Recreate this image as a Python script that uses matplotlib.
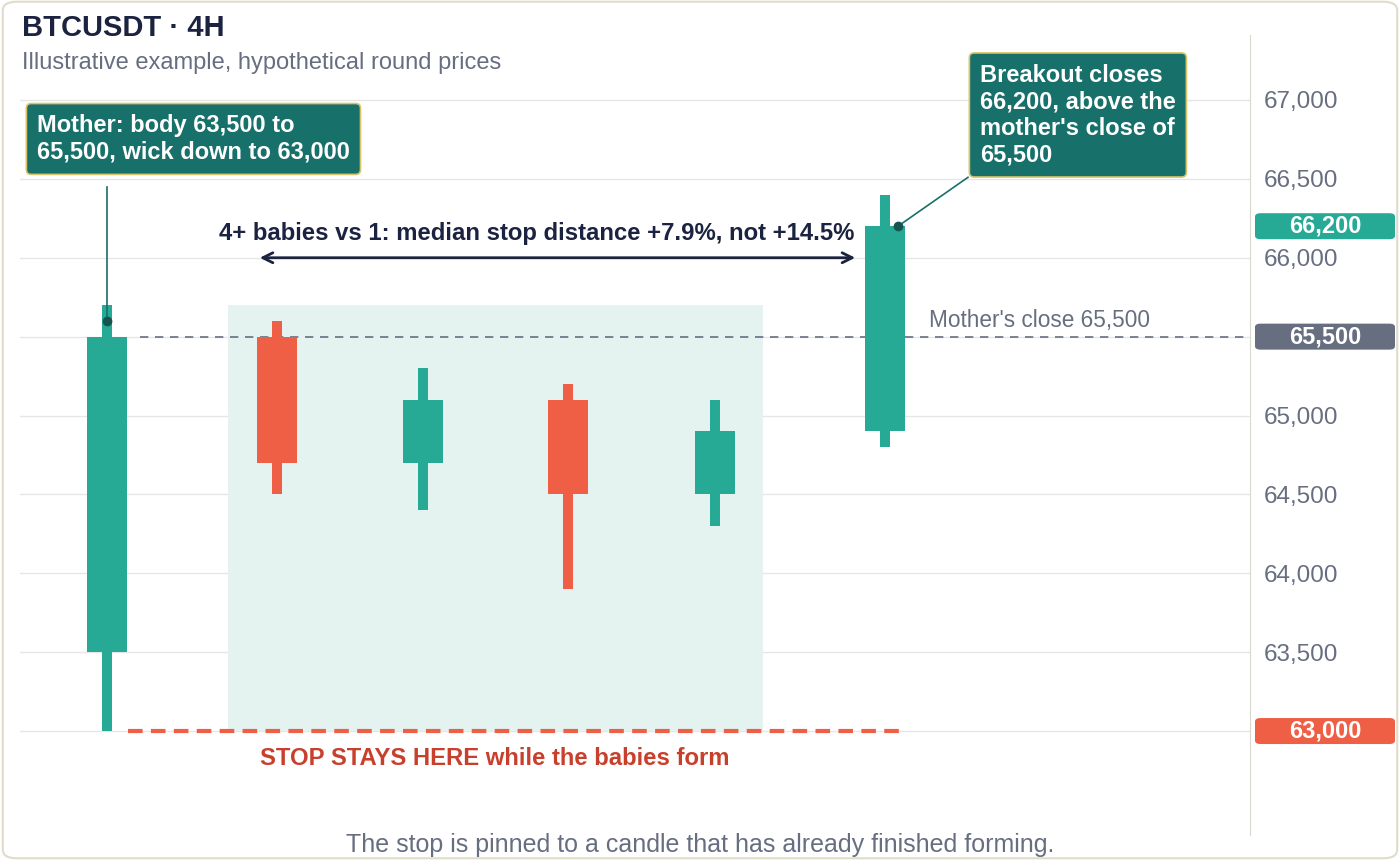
import matplotlib.pyplot as plt
from matplotlib.patches import Rectangle, FancyBboxPatch

# candle data (hypothetical round prices)
candle_x = [107, 277, 423, 568, 715, 885]
opens = [63500, 65500, 64700, 65100, 64500, 64900]
closes = [65500, 64700, 65100, 64500, 64900, 66200]
highs = [65700, 65600, 65300, 65200, 65100, 66400]
lows = [63000, 64500, 64400, 63900, 64300, 64800]

ticks = [63500, 64000, 64500, 65000, 65500, 66000, 66500, 67000]
stop_price = 63000
mother_close = 65500
breakout_close = 66200

GREEN = '#26a995'
RED = '#ef5f45'
DARK = '#17706a'
NAVY = '#1b2340'
GREY = '#666e80'

plt.rcParams['font.family'] = ['Liberation Sans', 'DejaVu Sans']

fig = plt.figure(figsize=(14, 8.6), dpi=100)
fig.patches.append(FancyBboxPatch((0.002, 0.002), 0.996, 0.996, boxstyle='round,pad=0,rounding_size=0.01',
                                  transform=fig.transFigure, fc='white', ec='#e0dccb', lw=1.5, zorder=-10))
ax = fig.add_axes([20 / 1400, 25 / 860, 1230 / 1400, 800 / 860])
ax.set_facecolor('none')
ax.set_xlim(20, 1250)
ax.set_ylim(62341, 67412)

for t in ticks + [stop_price]:
    ax.axhline(t, color='#e6e6e6', lw=1, zorder=0)

for s in ['top', 'left', 'bottom']:
    ax.spines[s].set_visible(False)
ax.spines['right'].set_color('#d8d8cc')
ax.yaxis.tick_right()
ax.set_yticks(ticks)
ax.set_yticklabels([f'{t:,}' for t in ticks])
ax.tick_params(axis='y', length=0, labelsize=17.5, labelcolor=GREY, pad=10)
ax.set_xticks([])

# babies zone
ax.add_patch(Rectangle((228, stop_price), 535, highs[0] - stop_price, fc='#e4f3ef', ec='none', zorder=1))

for x, o, c, h, l in zip(candle_x, opens, closes, highs, lows):
    col = GREEN if c >= o else RED
    ax.add_patch(Rectangle((x - 5, l), 10, h - l, fc=col, ec='none', zorder=3))
    ax.add_patch(Rectangle((x - 20, min(o, c)), 40, abs(c - o), fc=col, ec='none', zorder=3))

ax.plot([140, 1250], [mother_close, mother_close], ls=(0, (5, 4)), color=GREY, lw=1.2, zorder=2)
ax.text(1150, mother_close + 30, "Mother's close 65,500", ha='right', va='bottom', fontsize=16.3, color=GREY)
ax.plot([128, 903], [stop_price, stop_price], ls=(0, (3.5, 2)), color=RED, lw=3, zorder=2)
ax.text(495, stop_price - 100, 'STOP STAYS HERE while the babies form', ha='center', va='top',
        fontsize=17.2, fontweight='bold', color='#c8402c')

# arrow
ax.annotate('', xy=(858, 66000), xytext=(257, 66000),
            arrowprops=dict(arrowstyle='<->', color=NAVY, lw=2, mutation_scale=18))
ax.text(537, 66080, '4+ babies vs 1: median stop distance +7.9%, not +14.5%', ha='center', va='bottom',
        fontsize=17.2, fontweight='bold', color=NAVY)

# callouts
box = dict(boxstyle='round,pad=0.45,rounding_size=0.2', fc=DARK, ec='#d9c46a', lw=1.2)
ax.plot([107, 107], [65600, 66450], color=DARK, lw=1.2, zorder=4)
ax.plot([107], [65600], 'o', color='#14564f', ms=6, zorder=5)
ax.text(37, 66753, 'Mother: body 63,500 to\n65,500, wick down to 63,000', ha='left', va='center',
        fontsize=17, fontweight='bold', color='white', bbox=box, linespacing=1.2, zorder=6)
ax.plot([898, 968], [breakout_close, 66510], color=DARK, lw=1.2, zorder=4)
ax.plot([898], [breakout_close], 'o', color='#14564f', ms=6, zorder=5)
ax.text(980, 66905, "Breakout closes\n66,200, above the\nmother's close of\n65,500", ha='left', va='center',
        fontsize=17, fontweight='bold', color='white', bbox=box, linespacing=1.2, zorder=6)

# right price tags
for p, col in [(breakout_close, GREEN), (mother_close, GREY), (stop_price, RED)]:
    ycen = ax.transData.transform((0, p))[1] / 860
    fig.patches.append(FancyBboxPatch((1255 / 1400, ycen - 13 / 860), 140 / 1400, 26 / 860,
                                      boxstyle='round,pad=0,rounding_size=0.004',
                                      transform=fig.transFigure, fc=col, ec='none', zorder=5))
    fig.text(1325 / 1400, ycen, f'{p:,}', ha='center', va='center', fontsize=17, fontweight='bold',
             color='white', zorder=6)

fig.text(22 / 1400, 1 - 28 / 860, 'BTCUSDT · 4H', ha='left', va='center', fontsize=21, fontweight='bold', color=NAVY)
fig.text(22 / 1400, 1 - 63 / 860, 'Illustrative example, hypothetical round prices', ha='left', va='center',
         fontsize=17, color=GREY)
fig.text(700 / 1400, 1 - 845 / 860, 'The stop is pinned to a candle that has already finished forming.',
         ha='center', va='center', fontsize=18, color=GREY)

fig.savefig('out.png', dpi=100)
